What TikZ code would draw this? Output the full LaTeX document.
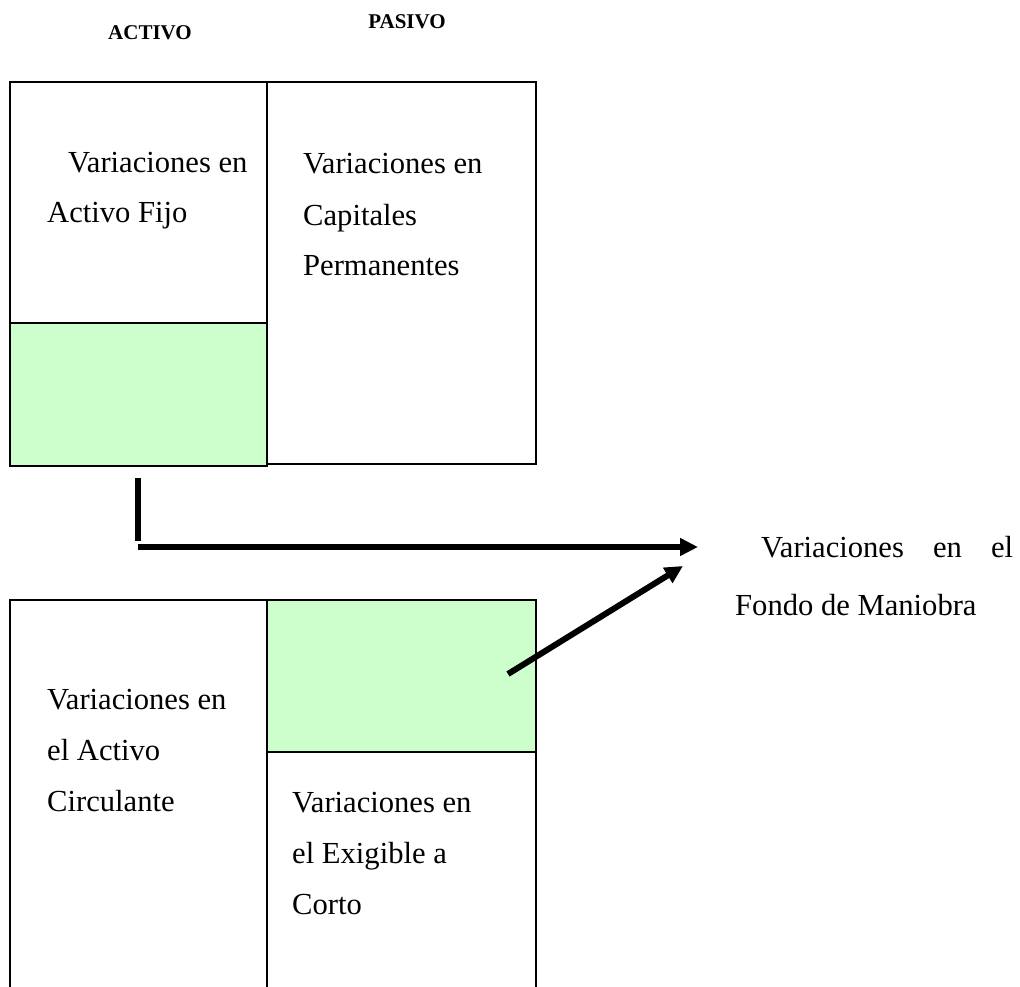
\documentclass[tikz,border=0pt]{standalone}
\usepackage{fontspec}
\setmainfont{Liberation Serif}
\usetikzlibrary{arrows.meta}
\definecolor{fundgreen}{HTML}{CCFFCC}
\begin{document}
\begin{tikzpicture}[x=1pt,y=-1pt,
  cell/.style={draw=black,line width=2pt},
  gcell/.style={cell,fill=fundgreen},
  % anchored at the baseline of the last line
  body/.style={font=\fontsize{30.6}{51}\selectfont,inner sep=0pt,anchor=base west,align=left},
  head/.style={font=\fontsize{21}{25}\selectfont\bfseries,inner sep=0pt,anchor=base},
  flow/.style={line width=6pt,-{Triangle[length=18pt,width=17pt]}},
  bar/.style={line width=6pt},
]
\useasboundingbox (0,0) rectangle (1020,987);

% column headings
\node[head] (activo) at (150,40) {ACTIVO};
\node[head] (pasivo) at (407,29) {PASIVO};

% balance at the start: fixed assets over working capital, permanent capital
\draw[cell] (10,82) rectangle (267,323);
\draw[gcell] (10,323) rectangle (267,466);
\draw[cell] (267,82) rectangle (536,464);

% balance below: current assets, short-term liabilities with working capital on top
\draw[cell] (10,1000) -- (10,600) -- (267,600) -- (267,1000);
\draw[cell] (267,1000) -- (267,600) -- (536,600) -- (536,1000);
\draw[gcell] (267,600) rectangle (536,752);

% texts in the cells
\node[body] (fijo) at (47,223) {\hspace*{21pt}Variaciones en\\Activo Fijo};
\node[body] (perm) at (303,276) {Variaciones en\\Capitales\\Permanentes};
\node[body] (circ) at (47,811) {Variaciones en\\el Activo\\Circulante};
\node[body] (exig) at (292,914) {Variaciones en\\el Exigible a\\Corto};

% working capital label
\node[body,font=\fontsize{30.6}{58}\selectfont] (fondo) at (735,615)
  {\hspace*{26pt}\makebox[252pt][s]{Variaciones en el}\\Fondo de Maniobra};

% connectors
\coordinate (stubtop) at (138,478);
\coordinate (stubbot) at (138,541);
\coordinate (hstart) at (138,547);
\coordinate (htip) at (698,547);
\coordinate (dstart) at (508,674);
\coordinate (dtip) at (683,566);
\draw[bar] (stubtop) -- (stubbot);
\draw[flow] (hstart) -- (htip);
\draw[flow] (dstart) -- (dtip);
\end{tikzpicture}
\end{document}
